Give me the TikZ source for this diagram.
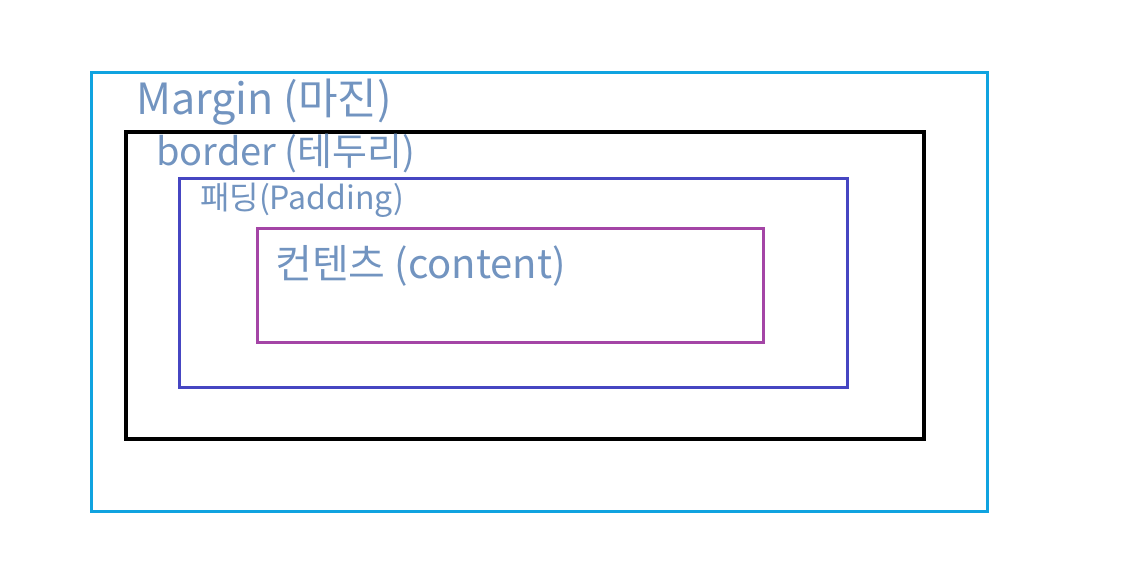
\documentclass[tikz,border=0pt]{standalone}
\usepackage{fontspec}
\setmainfont{Noto Sans CJK KR}
\usetikzlibrary{positioning}
\definecolor{MarginCyan}{HTML}{10A3E0}
\definecolor{PaddingBlue}{HTML}{4646C2}
\definecolor{ContentPurple}{HTML}{A445A6}
\definecolor{InkBlue}{HTML}{7294C0}
\tikzset{
 box layer/.style={draw,rectangle,inner sep=0pt,outer sep=0pt,anchor=north west},
 box label/.style={anchor=west,inner sep=0pt,text=InkBlue},
 hand size/.style={box label,font=\fontsize{#1}{#1}\selectfont}
}
\begin{document}
\begin{tikzpicture}[x=1pt,y=-1pt]
 \useasboundingbox (0,0) rectangle (1146,579);
 % nested boxes, outer to inner
 \node[box layer,draw=MarginCyan,line width=3pt,minimum width=896pt,minimum height=439pt]
   (margin box) at (91,72) {};
 \node[box layer,draw=black,line width=4pt,minimum width=798pt,minimum height=307pt]
   (border box) at (126,132) {};
 \node[box layer,draw=PaddingBlue,line width=3pt,minimum width=668pt,minimum height=209pt]
   (padding box) at (179,178) {};
 \node[box layer,draw=ContentPurple,line width=3pt,minimum width=506pt,minimum height=114pt]
   (content box) at (257,228) {};
 % labels
 \node[hand size=43] (margin label) at (136,102) {Margin (마진)};
 \node[hand size=38] (border label) at (156,154) {border (테두리)};
 \node[hand size=32] (padding label) at (200,200) {패딩(Padding)};
 \node[hand size=40] (content label) at (275,266) {컨텐츠 (content)};
\end{tikzpicture}
\end{document}
